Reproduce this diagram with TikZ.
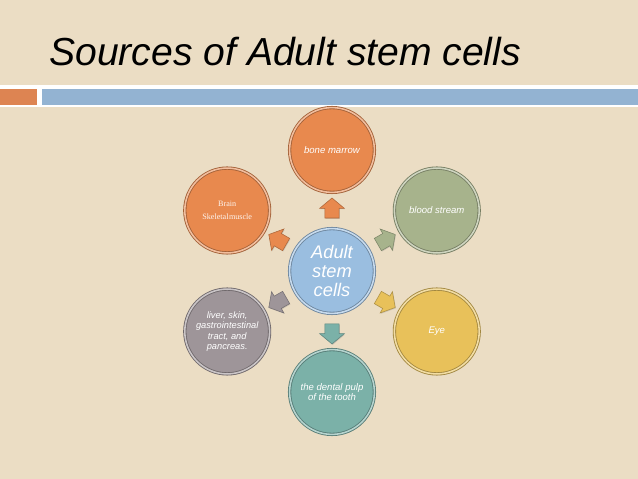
\documentclass[tikz,border=0pt]{standalone}
\usepackage{fontspec}
\setsansfont{Liberation Sans}
\newfontfamily\oldserif{Liberation Serif}
\usetikzlibrary{shapes.arrows,shadows}
\definecolor{slidebg}{HTML}{EBDDC4}
\definecolor{barorange}{HTML}{DD8452}
\definecolor{barblue}{HTML}{93B3D2}
\definecolor{cellorange}{HTML}{E8894E}
\definecolor{cellgreen}{HTML}{A7B38C}
\definecolor{cellblue}{HTML}{9ABEE0}
\definecolor{cellgray}{HTML}{9E9599}
\definecolor{cellyellow}{HTML}{E8C15A}
\definecolor{cellteal}{HTML}{7BB1A8}
\tikzset{every path/.style={semithick}}
\tikzset{
  source/.style={circle,fill=#1,draw=#1!70!black,double=#1!55!white,double distance=1.1pt,
    minimum size=2.12cm,inner sep=0pt,align=center,text=white,
    font=\sffamily\itshape\fontsize{6.8}{7.6}\selectfont,
    drop shadow={shadow xshift=0.7pt,shadow yshift=-0.9pt,opacity=0.35}},
  pointer/.style={single arrow,fill=#1,draw=#1!75!black,thin,inner sep=0pt,
    text height=0.34cm,text depth=0pt,minimum height=0.5cm,
    single arrow head extend=0.13cm,single arrow tip angle=100,
    drop shadow={shadow xshift=0.5pt,shadow yshift=-0.6pt,opacity=0.3}}
}

\begin{document}
\begin{tikzpicture}[x=0.025cm,y=0.025cm]
    \useasboundingbox (0,0) rectangle (638,479);
    \fill[slidebg] (0,0) rectangle (638,479);
    \fill[white] (0,372) rectangle (638,394);
    \fill[barorange] (0,374) rectangle (37,390);
    \fill[barblue] (42,374) rectangle (638,390);
    \node[anchor=base west,inner sep=0pt,font=\sffamily\itshape\fontsize{27.8}{33}\selectfont] (TITLE) at (49,413) {Sources of Adult stem cells};

    \node[source=cellblue,font=\sffamily\itshape\fontsize{13}{13.6}\selectfont] (CENTER) at (332,208) {Adult\\stem\\cells};

    \node[source=cellorange] (MARROW) at ([shift={(90:121)}]CENTER) {bone marrow};
    \node[source=cellgreen] (BLOOD) at ([shift={(30:121)}]CENTER) {blood stream};
    \node[source=cellyellow] (EYE) at ([shift={(-30:121)}]CENTER) {Eye};
    \node[source=cellteal] (PULP) at ([shift={(-90:121)}]CENTER) {the dental pulp\\of the tooth};
    \node[source=cellgray,font=\sffamily\itshape\fontsize{6.6}{7.4}\selectfont] (LIVER) at ([shift={(210:121)}]CENTER) {liver, skin,\\gastrointestinal\\tract, and\\pancreas.};
    \node[source=cellorange,text=white!90!cellorange,font=\oldserif\fontsize{5.8}{9.2}\selectfont] (BRAIN) at ([shift={(150:121)}]CENTER) {Brain\\Skeletal\hspace{0.3pt}muscle};

    \node[pointer=cellorange,rotate=90] (ARROWM) at ([shift={(90:60)}]CENTER) {};
    \node[pointer=cellgreen,rotate=30] (ARROWB) at ([shift={(30:60)}]CENTER) {};
    \node[pointer=cellyellow,rotate=-30] (ARROWE) at ([shift={(-30:60)}]CENTER) {};
    \node[pointer=cellteal,rotate=-90] (ARROWP) at ([shift={(-90:60)}]CENTER) {};
    \node[pointer=cellgray,rotate=210] (ARROWL) at ([shift={(210:60)}]CENTER) {};
    \node[pointer=cellorange,rotate=150] (ARROWS) at ([shift={(150:60)}]CENTER) {};
\end{tikzpicture}
\end{document}
